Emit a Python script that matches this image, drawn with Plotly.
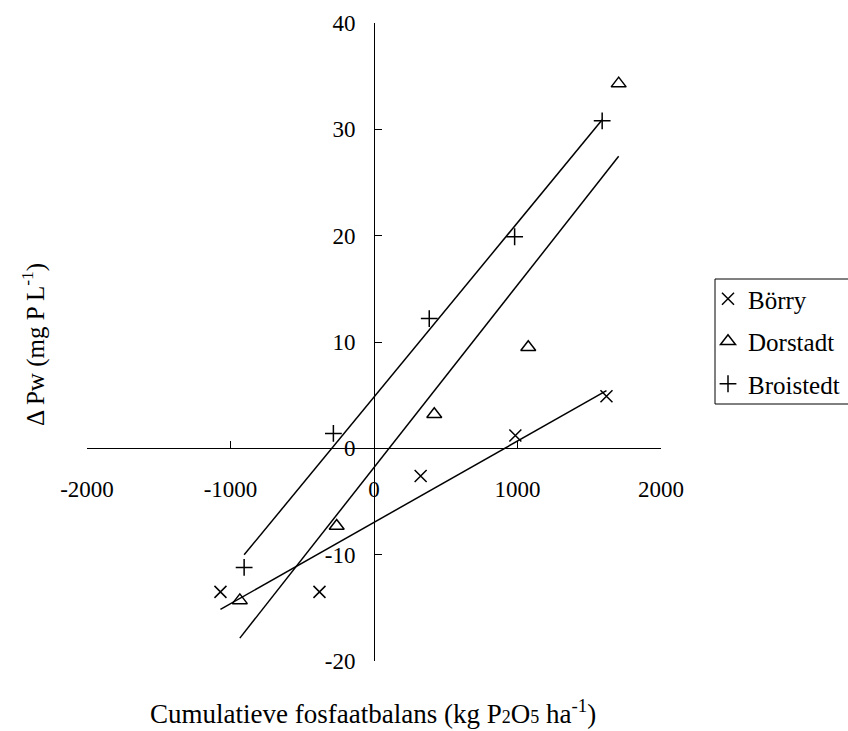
import numpy as np
import plotly.graph_objects as go

series_names = ["Börry", "Dorstadt", "Broistedt"]
borry_x = [-1070, -380, 325, 985, 1620]
borry_y = [-13.5, -13.5, -2.6, 1.2, 4.9]
dorstadt_x = [-935, -260, 420, 1075, 1705]
dorstadt_y = [-14.3, -7.3, 3.2, 9.5, 34.3]
broistedt_x = [-905, -283, 385, 980, 1590]
broistedt_y = [-11.2, 1.4, 12.2, 19.9, 30.8]
x_ticks = [-2000, -1000, 0, 1000, 2000]
y_ticks = [-20, -10, 0, 10, 20, 30, 40]

FONT = "Liberation Serif, Times New Roman, serif"
symbols = ["x-thin-open", "triangle-up-open", "cross-thin-open"]
sizes = [12, 13, 12]
data = [(borry_x, borry_y), (dorstadt_x, dorstadt_y), (broistedt_x, broistedt_y)]

# plot-area pixel geometry
L, R, T, B = 87, 661, 23, 661
PW, PH = R - L, B - T


def px(xp):
    return (xp - L) / PW


def py(yp):
    return (B - yp) / PH


fig = go.Figure()
for i, (name, (xs, ys)) in enumerate(zip(series_names, data)):
    fig.add_trace(go.Scatter(
        x=xs, y=ys, mode="markers", name=name,
        legendgroup=name,
        marker=dict(symbol=symbols[i], size=sizes[i], color="black",
                    line=dict(color="black", width=1.5)),
    ))
for i, (name, (xs, ys)) in enumerate(zip(series_names, data)):
    slope, icpt = np.polyfit(xs, ys, 1)
    lx = [min(xs), max(xs)]
    fig.add_trace(go.Scatter(
        x=lx, y=[slope * v + icpt for v in lx], mode="lines",
        line=dict(color="black", width=1.5), showlegend=False,
        legendgroup=name, hoverinfo="skip",
    ))

fig.update_layout(
    width=848, height=731,
    margin=dict(l=L, r=848 - R, t=T, b=731 - B, autoexpand=False),
    paper_bgcolor="white", plot_bgcolor="white",
    font=dict(family=FONT, size=23, color="black"),
    showlegend=True,
    legend=dict(
        x=px(708), y=py(276), xanchor="left", yanchor="top",
        borderwidth=0, bgcolor="rgba(0,0,0,0)",
        font=dict(family=FONT, size=25, color="black"),
        traceorder="grouped", tracegroupgap=7,
        itemwidth=30,
    ),
    xaxis=dict(
        range=[-2000, 2000], tickvals=x_ticks, ticktext=[str(v) for v in x_ticks],
        anchor="free", position=1/3,
        showgrid=False, zeroline=False,
        showline=True, linecolor="black", linewidth=1,
        ticks="inside", ticklen=7, tickcolor="black",
        ticklabelstandoff=20,
        tickfont=dict(family=FONT, size=23),
    ),
    yaxis=dict(
        range=[-20, 40], tickvals=y_ticks, ticktext=[str(v) for v in y_ticks],
        anchor="free", position=0.5,
        showgrid=False, zeroline=False,
        showline=True, linecolor="black", linewidth=1,
        ticks="inside", ticklen=7, tickcolor="black",
        ticklabelstandoff=14,
        tickfont=dict(family=FONT, size=23),
    ),
    shapes=[
        dict(type="rect", xref="paper", yref="paper",
             x0=px(715), x1=px(870), y0=py(404), y1=py(279),
             line=dict(color="black", width=1), fillcolor="rgba(0,0,0,0)"),
    ],
    annotations=[
        dict(text="Cumulatieve fosfaatbalans (kg P<span style='font-size:18px'>2</span>O<span style='font-size:18px'>5</span> ha<sup>-1</sup>)",
             xref="paper", yref="paper", x=px(373), y=py(712),
             xanchor="center", yanchor="middle", showarrow=False,
             font=dict(family=FONT, size=27)),
        dict(text="Δ Pw (mg P L<sup>-1</sup>)",
             xref="paper", yref="paper", x=px(33), y=py(345),
             xanchor="center", yanchor="middle", showarrow=False, textangle=-90,
             font=dict(family=FONT, size=25)),
    ],
)

fig.write_html("out.html")
